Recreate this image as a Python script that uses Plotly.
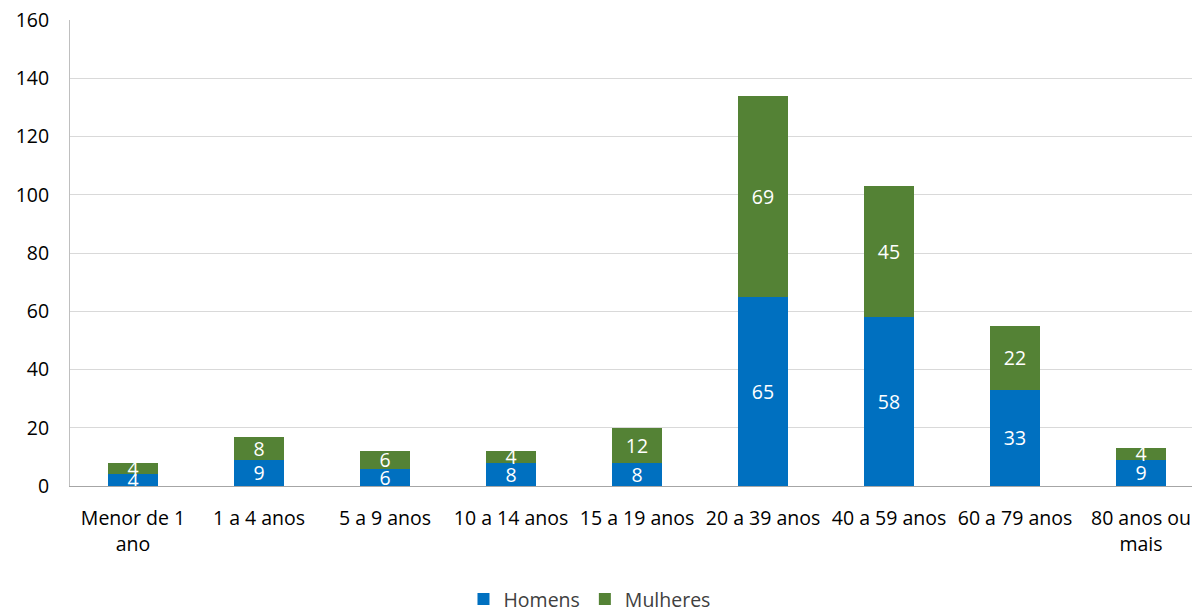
import plotly.graph_objects as go

categories = ["Menor de 1<br>ano", "1 a 4 anos", "5 a 9 anos", "10 a 14 anos", "15 a 19 anos",
              "20 a 39 anos", "40 a 59 anos", "60 a 79 anos", "80 anos ou<br>mais"]
homens = [4, 9, 6, 8, 8, 65, 58, 33, 9]
mulheres = [4, 8, 6, 4, 12, 69, 45, 22, 4]
y_ticks = [0, 20, 40, 60, 80, 100, 120, 140, 160]

FONT = "Open Sans"
FS = 19.5

fig = go.Figure()
for name, vals, col in [("Homens", homens, "#0070C0"), ("Mulheres", mulheres, "#548235")]:
    fig.add_trace(go.Bar(name=name, x=list(range(len(categories))), y=vals,
                         marker_color=col, marker_line_width=0, text=vals, textposition="inside",
                         insidetextanchor="middle", constraintext="none", textangle=0,
                         textfont=dict(color="white", size=FS, family=FONT)))

fig.update_layout(
    barmode="stack", bargap=0.6,
    width=1192, height=615,
    margin=dict(l=70, r=0, t=20, b=129, autoexpand=False),
    plot_bgcolor="white", paper_bgcolor="white",
    font=dict(family=FONT, size=FS, color="#000000"),
    legend=dict(orientation="h", x=0.463, xanchor="center", y=-0.243, yanchor="middle",
                font=dict(size=FS, color="#404040"), traceorder="normal",
                itemwidth=30),
    xaxis=dict(tickmode="array", tickvals=list(range(len(categories))), ticktext=categories,
               range=[-0.5, 8.405], showgrid=False, showline=True, linecolor="#A6A6A6",
               linewidth=1, ticks="", ticklabelstandoff=15, tickfont=dict(size=FS),
               automargin=False, ticklabeloverflow="allow"),
    yaxis=dict(range=[0, 160.05], tickvals=y_ticks, showgrid=True, gridcolor="#D9D9D9",
               showline=True, linecolor="#BFBFBF", zeroline=False, ticks="",
               ticklabelstandoff=16, tickfont=dict(size=FS), automargin=False,
               ticklabeloverflow="allow"),
)

fig.write_html("out.html", config={"displayModeBar": False},
               post_script="document.body.style.margin='0';document.body.style.overflow='hidden';")
